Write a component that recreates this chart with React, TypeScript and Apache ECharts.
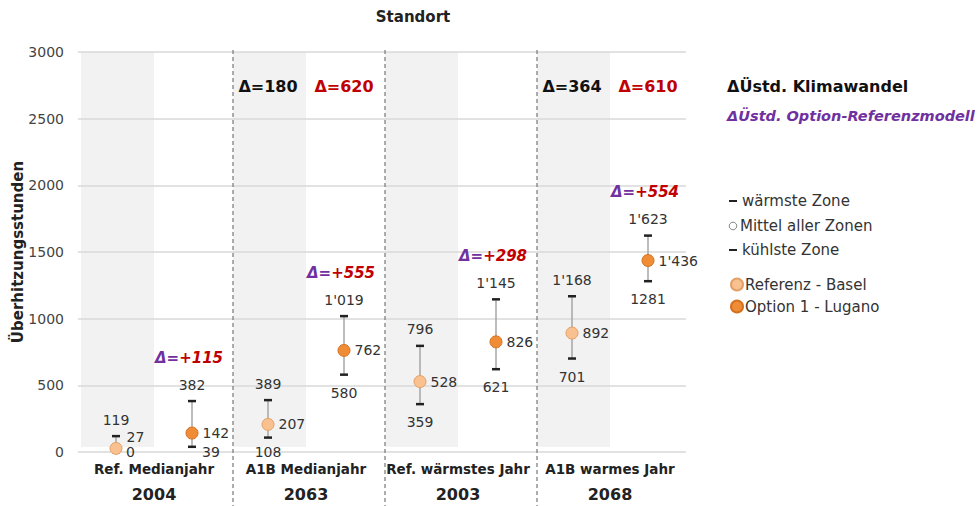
import React, { useEffect, useRef } from 'react';
import * as echarts from 'echarts';

const FONT = '"DejaVu Sans", Verdana, sans-serif';

// ---- data ----
const groups = ['Ref. Medianjahr', 'A1B Medianjahr', 'Ref. wärmstes Jahr', 'A1B warmes Jahr'];
const years = ['2004', '2063', '2003', '2068'];
const slots = ['2004 Basel', '2004 Lugano', '2063 Basel', '2063 Lugano', '2003 Basel', '2003 Lugano', '2068 Basel', '2068 Lugano'];

const baselMax = [119, 389, 796, 1168];
const baselMean = [27, 207, 528, 892];
const baselMin = [0, 108, 359, 701];
const luganoMax = [382, 1019, 1145, 1623];
const luganoMean = [142, 762, 826, 1436];
const luganoMin = [39, 580, 621, 1281];

const baselMaxLabels = ['119', '389', '796', "1'168"];
const baselMeanLabels = ['27', '207', '528', '892'];
const baselMinLabels = ['0', '108', '359', '701'];
const luganoMaxLabels = ['382', "1'019", "1'145", "1'623"];
const luganoMeanLabels = ['142', '762', '826', "1'436"];
const luganoMinLabels = ['39', '580', '621', '1281'];

const deltaOption = ['+115', '+555', '+298', '+554'];
const deltaClimate = ['', '180', '', '364'];
const deltaClimateOption = ['', '620', '', '610'];

const yMin = 0;
const yMax = 3000;
const yInterval = 500;

const legendNames = ['Referenz - Basel', 'Option 1 - Lugano'];

// ---- styles ----
const PURPLE = '#7030a0';
const RED = '#c00000';
const TXT = '#333';
const ANNOT_Y = 2745;

function errorBarRender(maxLabels: string[], minLabels: string[]) {
  return (params: any, api: any) => {
    const slot = api.value(0);
    const mn = api.value(1);
    const mx = api.value(2);
    const i = params.dataIndex;
    const [x, yLo] = api.coord([slot, mn]);
    const yHi = api.coord([slot, mx])[1];
    const y0 = api.coord([slot, 0])[1];
    const font = `14px ${FONT}`;
    let minLabel: any;
    const ly = yLo + 18;
    if (ly > y0 + 6) {
      minLabel = { type: 'text', x: x + 10, y: y0, style: { text: minLabels[i], font, fill: TXT, align: 'left', verticalAlign: 'middle' } };
    } else {
      minLabel = { type: 'text', x, y: Math.min(ly, y0), style: { text: minLabels[i], font, fill: TXT, align: 'center', verticalAlign: 'middle' } };
    }
    return {
      type: 'group',
      children: [
        { type: 'line', shape: { x1: x, y1: yHi, x2: x, y2: yLo }, style: { stroke: '#a6a6a6', lineWidth: 1.5 } },
        { type: 'line', shape: { x1: x - 4, y1: yHi, x2: x + 4, y2: yHi }, style: { stroke: '#222', lineWidth: 2.5 } },
        { type: 'line', shape: { x1: x - 4, y1: yLo, x2: x + 4, y2: yLo }, style: { stroke: '#222', lineWidth: 2.5 } },
        { type: 'text', x, y: yHi - 16.5, style: { text: maxLabels[i], font, fill: TXT, align: 'center', verticalAlign: 'middle' } },
        minLabel,
      ],
    };
  };
}

function meanData(means: number[], mins: number[], offset: number) {
  return means.map((v, i) => {
    const tight = mins[i] < 90 && v - mins[i] < 100;
    return tight ? { value: [i * 2 + offset, v], label: { offset: [0, -11] } } : { value: [i * 2 + offset, v] };
  });
}

export default function App() {
  const ref = useRef<HTMLDivElement>(null);
  useEffect(() => {
    document.body.style.margin = '0';
    const chart = echarts.init(ref.current!, null, { renderer: 'svg' });
    const option: any = {
      animation: false,
      textStyle: { fontFamily: FONT },
      grid: { left: 78, right: 294, top: 52, bottom: 54, containLabel: false, outerBoundsMode: 'none' },
      legend: {
        data: legendNames,
        orient: 'vertical',
        left: 725,
        top: 272,
        itemWidth: 12,
        itemHeight: 12,
        itemGap: 7,
        icon: 'circle',
        textStyle: { fontSize: 15, color: TXT, fontFamily: FONT, padding: [0, 0, 0, -3] },
      },
      xAxis: [
        {
          type: 'category',
          data: slots,
          show: false,
          boundaryGap: true,
        },
        {
          type: 'category',
          data: groups,
          position: 'bottom',
          boundaryGap: true,
          axisLine: { show: false },
          axisTick: { show: false },
          axisLabel: {
            margin: 5,
            interval: 0,
            formatter: (v: string, i: number) => `{a|${v}}\n{b|${years[i]}}`,
            rich: {
              a: { fontFamily: FONT, fontWeight: 'bold', fontSize: 13.5, color: '#222', lineHeight: 24 },
              b: { fontFamily: FONT, fontWeight: 'bold', fontSize: 16, color: '#222', lineHeight: 26 },
            },
          },
        },
      ],
      yAxis: {
        type: 'value',
        min: yMin,
        max: yMax,
        interval: yInterval,
        name: 'Überhitzungsstunden',
        nameLocation: 'middle',
        nameGap: 53,
        nameMoveOverlap: false,
        nameTextStyle: { fontFamily: FONT, fontWeight: 'bold', fontSize: 15, color: '#222' },
        axisLine: { show: false },
        axisTick: { show: false },
        axisLabel: { margin: 14, fontSize: 14, color: '#444', fontFamily: FONT, formatter: (v: number) => String(v) },
        splitLine: { lineStyle: { color: '#d9d9d9', width: 1.5 } },
      },
      graphic: [
        { type: 'text', x: 413, y: 17, style: { text: 'Standort', font: `bold 15px ${FONT}`, fill: '#222', align: 'center', verticalAlign: 'middle' } },
        { type: 'text', x: 727, y: 86, style: { text: 'ΔÜstd. Klimawandel', font: `bold 16px ${FONT}`, fill: '#111', align: 'left', verticalAlign: 'middle' } },
        { type: 'text', x: 727, y: 116, style: { text: 'ΔÜstd. Option-Referenzmodell', font: `italic bold 14.5px ${FONT}`, fill: PURPLE, align: 'left', verticalAlign: 'middle' } },
        { type: 'line', shape: { x1: 729, y1: 201, x2: 737, y2: 201 }, style: { stroke: '#222', lineWidth: 2 } },
        { type: 'text', x: 742, y: 201, style: { text: 'wärmste Zone', font: `15px ${FONT}`, fill: TXT, align: 'left', verticalAlign: 'middle' } },
        { type: 'circle', shape: { cx: 733, cy: 226, r: 3.8 }, style: { fill: '#fff', stroke: '#888', lineWidth: 1 } },
        { type: 'text', x: 740, y: 226, style: { text: 'Mittel aller Zonen', font: `15px ${FONT}`, fill: TXT, align: 'left', verticalAlign: 'middle' } },
        { type: 'line', shape: { x1: 729, y1: 250, x2: 737, y2: 250 }, style: { stroke: '#222', lineWidth: 2 } },
        { type: 'text', x: 742, y: 250, style: { text: 'kühlste Zone', font: `15px ${FONT}`, fill: TXT, align: 'left', verticalAlign: 'middle' } },
      ],
      series: [
        {
          type: 'custom',
          name: 'bands',
          z: -1,
          silent: true,
          xAxisIndex: 0,
          data: [0, 2, 4, 6].map((s) => [s]),
          renderItem: (params: any, api: any) => {
            const slot = api.value(0);
            const x = api.coord([slot, 0])[0];
            const w = api.size([1, 0])[0];
            const top = api.coord([slot, yMax])[1];
            const y0 = api.coord([slot, 0])[1];
            return { type: 'rect', shape: { x: x - w / 2 + 3, y: top, width: w - 3, height: y0 - 5 - top }, style: { fill: '#f2f2f2' } };
          },
        },
        {
          type: 'custom',
          name: 'separators',
          silent: true,
          xAxisIndex: 0,
          data: [2, 4, 6].map((s) => [s]),
          renderItem: (params: any, api: any) => {
            const slot = api.value(0);
            const x = api.coord([slot, 0])[0];
            const w = api.size([1, 0])[0];
            const top = api.coord([slot, yMax])[1];
            const xs = x - w / 2 + 3;
            return { type: 'line', shape: { x1: xs, y1: top - 2, x2: xs, y2: api.getHeight() }, style: { stroke: '#777', lineWidth: 1.2, lineDash: [4, 3] } };
          },
        },
        {
          type: 'custom',
          name: 'Basel range',
          xAxisIndex: 0,
          data: baselMin.map((mn, i) => [i * 2, mn, baselMax[i]]),
          renderItem: errorBarRender(baselMaxLabels, baselMinLabels),
        },
        {
          type: 'custom',
          name: 'Lugano range',
          xAxisIndex: 0,
          data: luganoMin.map((mn, i) => [i * 2 + 1, mn, luganoMax[i]]),
          renderItem: errorBarRender(luganoMaxLabels, luganoMinLabels),
        },
        {
          type: 'custom',
          name: 'delta option',
          silent: true,
          xAxisIndex: 0,
          data: luganoMax.map((mx, i) => [i * 2 + 1, mx]),
          renderItem: (params: any, api: any) => {
            const [x, y] = api.coord([api.value(0), api.value(1)]);
            const i = params.dataIndex;
            const f = `italic bold 15px ${FONT}`;
            return {
              type: 'text',
              x: x - 3,
              y: y - 16.5 - 27,
              style: {
                text: `{p|Δ=}{r|${deltaOption[i]}}`,
                align: 'center',
                verticalAlign: 'middle',
                rich: { p: { fill: PURPLE, font: f }, r: { fill: RED, font: f } },
              },
            };
          },
        },
        {
          type: 'custom',
          name: 'delta climate',
          silent: true,
          xAxisIndex: 0,
          data: deltaClimate.map((d, i) => [i * 2, i]).filter((_, i) => deltaClimate[i] !== ''),
          renderItem: (params: any, api: any) => {
            const g = api.value(1);
            const f = `bold 16px ${FONT}`;
            const [xb, y] = api.coord([g * 2, ANNOT_Y]);
            const xr = api.coord([g * 2 + 1, ANNOT_Y])[0];
            return {
              type: 'group',
              children: [
                { type: 'text', x: xb, y, style: { text: `Δ=${deltaClimate[g]}`, font: f, fill: '#111', align: 'center', verticalAlign: 'middle' } },
                { type: 'text', x: xr, y, style: { text: `Δ=${deltaClimateOption[g]}`, font: f, fill: RED, align: 'center', verticalAlign: 'middle' } },
              ],
            };
          },
        },
        {
          type: 'scatter',
          name: legendNames[0],
          xAxisIndex: 0,
          symbolSize: 12,
          itemStyle: { color: '#f9c18f', borderColor: '#e3a066', borderWidth: 1, opacity: 1 },
          label: {
            show: true,
            position: 'right',
            distance: 4,
            fontSize: 14,
            color: TXT,
            fontFamily: FONT,
            formatter: (p: any) => baselMeanLabels[p.dataIndex],
          },
          data: meanData(baselMean, baselMin, 0),
          z: 5,
        },
        {
          type: 'scatter',
          name: legendNames[1],
          xAxisIndex: 0,
          symbolSize: 12,
          itemStyle: { color: '#f08c36', borderColor: '#d4711f', borderWidth: 1, opacity: 1 },
          label: {
            show: true,
            position: 'right',
            distance: 4,
            fontSize: 14,
            color: TXT,
            fontFamily: FONT,
            formatter: (p: any) => luganoMeanLabels[p.dataIndex],
          },
          data: meanData(luganoMean, luganoMin, 1),
          z: 5,
        },
      ],
    };
    chart.setOption(option);
    return () => chart.dispose();
  }, []);
  return <div ref={ref} style={{ width: 980, height: 506 }} />;
}
